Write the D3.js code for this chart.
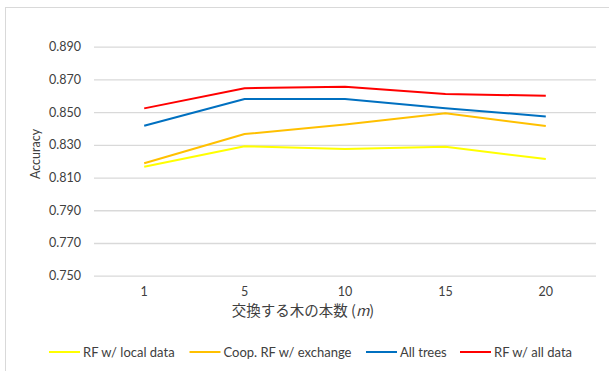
<!DOCTYPE html>
<html>
<head>
<meta charset="utf-8">
<script src="https://cdn.jsdelivr.net/npm/d3@7"></script>
<style>
  html, body { margin: 0; padding: 0; background: #fff; }
  svg { display: block; }
  text { font-family: Lato, "Open Sans", sans-serif; fill: #404040; }
</style>
</head>
<body>
<svg id="chart" width="609" height="371"></svg>
<script>
// Number of exchanged trees (m)
const categories = ["1", "5", "10", "15", "20"];

// Accuracy per method
const rfLocal    = [0.8166, 0.8291, 0.8275, 0.8289, 0.8213];
const coopRF     = [0.8187, 0.8366, 0.8425, 0.8493, 0.8415];
const allTrees   = [0.8417, 0.8580, 0.8580, 0.8523, 0.8474];
const rfAllData  = [0.8523, 0.8646, 0.8655, 0.8611, 0.8600];

const seriesNames = ["RF w/ local data", "Coop. RF w/ exchange", "All trees", "RF w/ all data"];
const seriesColors = ["#FFFF00", "#FFC000", "#0070C0", "#FF0000"];
const yTicks = [0.750, 0.770, 0.790, 0.810, 0.830, 0.850, 0.870, 0.890];

const series = [rfLocal, coopRF, allTrees, rfAllData].map((values, i) => ({
  name: seriesNames[i], color: seriesColors[i], values
}));

const svg = d3.select("#chart");
const plot = { left: 94, right: 596, top: 46.7, bottom: 275.7 };

// chart area border
svg.append("rect")
  .attr("x", 5.5).attr("y", 7.5)
  .attr("width", 620).attr("height", 380)
  .attr("fill", "#fff")
  .attr("stroke", "#d9d9d9").attr("stroke-width", 1);

const x = d3.scaleBand().domain(categories).range([plot.left, plot.right]);
const y = d3.scaleLinear().domain([0.750, 0.890]).range([plot.bottom, plot.top]);

// horizontal gridlines + y tick labels
const yAxis = d3.axisLeft(y).tickValues(yTicks).tickFormat(d3.format(".3f"))
  .tickSize(-(plot.right - plot.left)).tickPadding(13);
const gy = svg.append("g").attr("transform", `translate(${plot.left},0)`).call(yAxis);
gy.select(".domain").remove();
gy.selectAll(".tick line").attr("stroke", "#d9d9d9").attr("stroke-width", 1.3);
gy.selectAll(".tick text").attr("font-size", 12.5).attr("fill", "#404040")
  .style("font-family", "Lato, sans-serif");

// x tick labels
const xAxis = d3.axisBottom(x).tickSize(0).tickPadding(11);
const gx = svg.append("g").attr("transform", `translate(0,${plot.bottom})`).call(xAxis);
gx.select(".domain").remove();
gx.selectAll(".tick text").attr("font-size", 12.5).attr("fill", "#404040")
  .style("font-family", "Lato, sans-serif");

// axis titles
svg.append("text")
  .attr("x", 303).attr("y", 316)
  .attr("text-anchor", "middle")
  .attr("font-size", 14.5)
  .style("font-family", "'Noto Sans CJK JP', sans-serif")
  .html('交換する木の本数 (<tspan font-style="italic">m</tspan>)');

svg.append("text")
  .attr("transform", "translate(40,154) rotate(-90)")
  .attr("text-anchor", "middle")
  .attr("font-size", 12.5)
  .text("Accuracy");

// series lines
const line = d3.line()
  .x((d, i) => x(categories[i]) + x.bandwidth() / 2)
  .y(d => y(d));

svg.append("g").selectAll("path")
  .data(series)
  .join("path")
  .attr("d", d => line(d.values))
  .attr("fill", "none")
  .attr("stroke", d => d.color)
  .attr("stroke-width", 2)
  .attr("stroke-linejoin", "round");

// legend
const legendX = [49, 189.5, 366, 460];
const legendY = 352;
const lg = svg.append("g").selectAll("g")
  .data(series)
  .join("g")
  .attr("transform", (d, i) => `translate(${legendX[i]},${legendY})`);
lg.append("line")
  .attr("x1", 0).attr("x2", 31).attr("y1", 0).attr("y2", 0)
  .attr("stroke", d => d.color).attr("stroke-width", 2);
lg.append("text")
  .attr("x", 34).attr("y", 0).attr("dy", "0.35em")
  .attr("font-size", 13)
  .text(d => d.name);
</script>
</body>
</html>
